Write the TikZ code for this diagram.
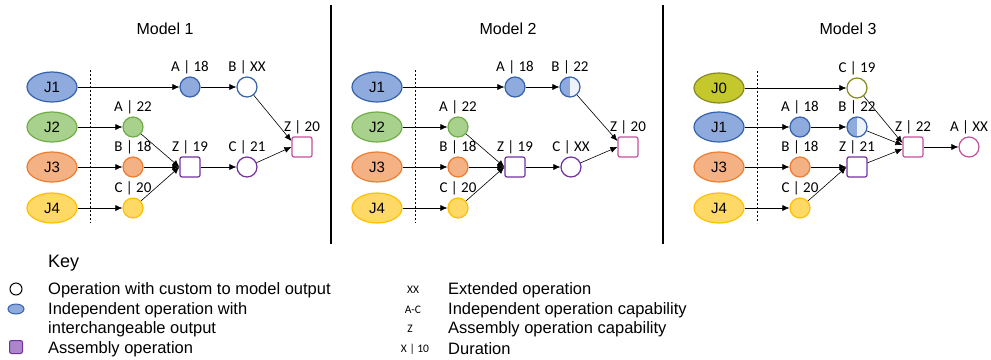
\documentclass[tikz,border=0pt]{standalone}
\usepackage{fontspec}
\setmainfont{Liberation Sans}
\newfontfamily\lblfont{Carlito}
\usepackage{tikz}
\usetikzlibrary{arrows.meta,calc,positioning,shapes.geometric}
\definecolor{blueF}{HTML}{8FAADC}
\definecolor{blueD}{HTML}{3462AD}
\definecolor{blueL}{HTML}{EEF3FA}
\definecolor{greenF}{HTML}{A9D18E}
\definecolor{greenD}{HTML}{70AD47}
\definecolor{orangeF}{HTML}{F4B183}
\definecolor{orangeD}{HTML}{ED7D31}
\definecolor{yellowF}{HTML}{FFD966}
\definecolor{yellowD}{HTML}{FFC000}
\definecolor{oliveF}{HTML}{C4C82C}
\definecolor{oliveD}{HTML}{878A1E}
\definecolor{purpleD}{HTML}{7030A0}
\definecolor{purpleF}{HTML}{AC86CB}
\definecolor{pinkD}{HTML}{C4509C}
\tikzstyle{job}=[draw, ellipse, minimum width=50pt, minimum height=30pt, inner sep=0pt, line width=1.2pt, font=\fontsize{15}{18}\selectfont]
\tikzstyle{op}=[draw, circle, minimum size=20pt, inner sep=0pt, line width=1.2pt, node distance=57pt]
\tikzstyle{asm}=[draw, rectangle, rounded corners=2pt, minimum size=20pt, inner sep=0pt, line width=1.2pt, draw=purpleD, fill=white, node distance=57pt]
\tikzstyle{keytext}=[anchor=west, inner sep=0pt, align=left, font=\fontsize{16.5}{19.5}\selectfont]
\tikzstyle{keysym}=[inner sep=0pt, font=\lblfont\fontsize{11.5}{13}\selectfont]
\tikzset{%
    lbl/.style={font=\lblfont\fontsize{15}{18}\selectfont, inner sep=0pt},
    flow/.style={-{Latex[length=7pt,width=6pt]}, line width=0.6pt},
    sepline/.style={line width=2pt},
    lane/.style={dashed, line width=0.6pt, dash pattern=on 2pt off 2pt},
    halfblue/.style={op, draw=blueD, fill=blueL, path picture={\fill[blueF] (path picture bounding box.south west) rectangle (path picture bounding box.north);}},
  }

\begin{document}
\begin{tikzpicture}[x=1pt, y=-1pt, node distance=40pt, every label/.style={lbl}, label distance=2.5pt]
    \useasboundingbox (0,0) rectangle (991,359);
    % Model 1
    \node (m1title) at (165,29) {\fontsize{16}{19}\selectfont Model 1};
    \node (m1j1) [job, fill=blueF, draw=blueD] at (52,87) {J1};
    \node (m1j2) [job, fill=greenF, draw=greenD, below of=m1j1] {J2};
    \node (m1j3) [job, fill=orangeF, draw=orangeD, below of=m1j2] {J3};
    \node (m1j4) [job, fill=yellowF, draw=yellowD, below of=m1j3, yshift=-1pt] {J4};
    \draw [lane] ([xshift=38pt, yshift=17pt]m1j1.center) -- ([xshift=38pt, yshift=-15pt]m1j4.center);
    %
    \node (m1a1) [op, fill=blueF, draw=blueD, right of=m1j1, node distance=138pt, label=above:A | 18] {};
    \node (m1b1) [op, fill=white, draw=blueD, right of=m1a1, label=above:B | XX] {};
    \node (m1a2) [op, fill=greenF, draw=greenD, right of=m1j2, node distance=81pt, label=above:A | 22] {};
    \node (m1b2) [op, fill=orangeF, draw=orangeD, right of=m1j3, node distance=81pt, label=above:B | 18] {};
    \node (m1c2) [op, fill=yellowF, draw=yellowD, right of=m1j4, node distance=81pt, label=above:C | 20] {};
    \node (m1z1) [asm, right of=m1b2, label=above:Z | 19] {};
    \node (m1c1) [op, fill=white, draw=purpleD, right of=m1z1, label=above:C | 21] {};
    \node (m1z2) [asm, draw=pinkD, right of=m1c1, node distance=55pt, yshift=20pt, label=above:Z | 20] {};
    %
    \draw [flow] (m1j1) -- (m1a1);
    \draw [flow] (m1a1) -- (m1b1);
    \draw [flow] (m1j2) -- (m1a2);
    \draw [flow] (m1j3) -- (m1b2);
    \draw [flow] (m1j4) -- (m1c2);
    \draw [flow] (m1a2) -- (m1z1.west);
    \draw [flow] (m1b2) -- (m1z1.west);
    \draw [flow] (m1c2) -- (m1z1.west);
    \draw [flow] (m1z1) -- (m1c1);
    \draw [flow] (m1b1) -- ([yshift=6pt]m1z2.west);
    \draw [flow] (m1c1) -- (m1z2.west);
    %
    \coordinate (sep1top) at (331,5);
    \coordinate (sep1bot) at (331,244);
    \draw [sepline] (sep1top) -- (sep1bot);
    % Model 2
    \node (m2title) at (508,29) {\fontsize{16}{19}\selectfont Model 2};
    \node (m2j1) [job, fill=blueF, draw=blueD] at (377,87) {J1};
    \node (m2j2) [job, fill=greenF, draw=greenD, below of=m2j1] {J2};
    \node (m2j3) [job, fill=orangeF, draw=orangeD, below of=m2j2] {J3};
    \node (m2j4) [job, fill=yellowF, draw=yellowD, below of=m2j3, yshift=-1pt] {J4};
    \draw [lane] ([xshift=38pt, yshift=17pt]m2j1.center) -- ([xshift=38pt, yshift=-15pt]m2j4.center);
    %
    \node (m2a1) [op, fill=blueF, draw=blueD, right of=m2j1, node distance=138pt, label=above:A | 18] {};
    \node (m2b1) [halfblue, right of=m2a1, node distance=55pt, label=above:B | 22] {};
    \node (m2a2) [op, fill=greenF, draw=greenD, right of=m2j2, node distance=81pt, label=above:A | 22] {};
    \node (m2b2) [op, fill=orangeF, draw=orangeD, right of=m2j3, node distance=81pt, label=above:B | 18] {};
    \node (m2c2) [op, fill=yellowF, draw=yellowD, right of=m2j4, node distance=81pt, label=above:C | 20] {};
    \node (m2z1) [asm, right of=m2b2, label=above:Z | 19] {};
    \node (m2c1) [op, fill=white, draw=purpleD, right of=m2z1, node distance=56pt, label=above:C | XX] {};
    \node (m2z2) [asm, draw=pinkD, right of=m2c1, node distance=57pt, yshift=20pt, label=above:Z | 20] {};
    %
    \draw [flow] (m2j1) -- (m2a1);
    \draw [flow] (m2a1) -- (m2b1);
    \draw [flow] (m2j2) -- (m2a2);
    \draw [flow] (m2j3) -- (m2b2);
    \draw [flow] (m2j4) -- (m2c2);
    \draw [flow] (m2a2) -- (m2z1.west);
    \draw [flow] (m2b2) -- (m2z1.west);
    \draw [flow] (m2c2) -- (m2z1.west);
    \draw [flow] (m2z1) -- (m2c1);
    \draw [flow] (m2b1) -- ([yshift=6pt]m2z2.west);
    \draw [flow] (m2c1) -- (m2z2.west);
    %
    \coordinate (sep2top) at (663,5);
    \coordinate (sep2bot) at (663,244);
    \draw [sepline] (sep2top) -- (sep2bot);
    % Model 3
    \node (m3title) at (848,29) {\fontsize{16}{19}\selectfont Model 3};
    \node (m3j0) [job, fill=oliveF, draw=oliveD] at (719,88) {J0};
    \node (m3j1) [job, fill=blueF, draw=blueD, below of=m3j0, yshift=1pt] {J1};
    \node (m3j3) [job, fill=orangeF, draw=orangeD, below of=m3j1] {J3};
    \node (m3j4) [job, fill=yellowF, draw=yellowD, below of=m3j3, yshift=-1pt] {J4};
    \draw [lane] ([xshift=38pt, yshift=17pt]m3j0.center) -- ([xshift=38pt, yshift=-15pt]m3j4.center);
    %
    \node (m3c0) [op, fill=white, draw=oliveD, right of=m3j0, node distance=138pt, label=above:C | 19] {};
    \node (m3a1) [op, fill=blueF, draw=blueD, right of=m3j1, node distance=81pt, label=above:A | 18] {};
    \node (m3b1) [halfblue, right of=m3a1, label=above:B | 22] {};
    \node (m3b2) [op, fill=orangeF, draw=orangeD, right of=m3j3, node distance=81pt, label=above:B | 18] {};
    \node (m3c2) [op, fill=yellowF, draw=yellowD, right of=m3j4, node distance=81pt, label=above:C | 20] {};
    \node (m3z1) [asm, right of=m3b2, label=above:Z | 21] {};
    \node (m3z2) [asm, draw=pinkD, right of=m3z1, node distance=56pt, yshift=20pt, label=above:Z | 22] {};
    \node (m3a3) [op, fill=white, draw=pinkD, right of=m3z2, node distance=56pt, label=above:A | XX] {};
    %
    \draw [flow] (m3j0) -- (m3c0);
    \draw [flow] (m3j1) -- (m3a1);
    \draw [flow] (m3a1) -- (m3b1);
    \draw [flow] (m3j3) -- (m3b2);
    \draw [flow] (m3j4) -- (m3c2);
    \draw [flow] (m3b2) -- (m3z1);
    \draw [flow] (m3c2) -- (m3z1.west);
    \draw [flow] (m3c0) -- ([yshift=4pt]m3z2.west);
    \draw [flow] (m3b1) -- ([yshift=2pt]m3z2.west);
    \draw [flow] (m3z1) -- ([yshift=-2pt]m3z2.west);
    \draw [flow] (m3z2) -- (m3a3);
    % Key
    \node (keytitle) [anchor=west, inner sep=0pt, font=\fontsize{18}{21}\selectfont] at (48,263) {Key};
    \node (key1) [draw=black, circle, minimum size=12pt, inner sep=0pt, line width=1pt] at (16,289) {};
    \node (key1t) [keytext] at (48,290) {Operation with custom to model output};
    \node (key2) [draw=blueD, fill=blueF, ellipse, minimum width=16pt, minimum height=10pt, inner sep=0pt, line width=1pt] at (16,309) {};
    \node (key2t) [keytext] at (48,319.5) {Independent operation with\\interchangeable output};
    \node (key3) [draw=purpleD, fill=purpleF, rectangle, rounded corners=2pt, minimum size=13pt, inner sep=0pt, line width=1pt] at (16,347) {};
    \node (key3t) [keytext] at (48,349) {Assembly operation};
    %
    \node (key4) [keysym] at (413,290) {XX};
    \node (key4t) [keytext] at (448,290) {Extended operation};
    \node (key5) [keysym] at (413,310) {A-C};
    \node (key5t) [keytext] at (448,310) {Independent operation capability};
    \node (key6) [keysym] at (410,329) {Z};
    \node (key6t) [keytext] at (448,329) {Assembly operation capability};
    \node (key7) [keysym] at (415,349) {X | 10};
    \node (key7t) [keytext] at (448,349) {Duration};
  \end{tikzpicture}
\end{document}
